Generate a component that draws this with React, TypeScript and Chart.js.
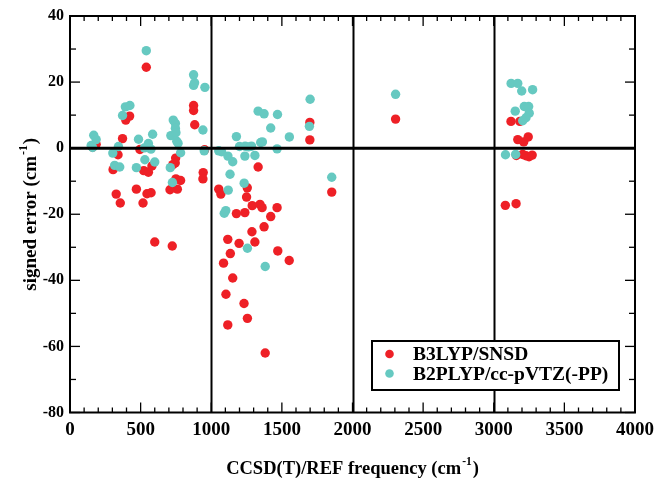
import React, { useEffect, useRef } from 'react';
import { Chart, registerables } from 'chart.js';

Chart.register(...registerables);

// ---------- data ----------
const b3lypFreq = [
  160, 185, 305, 327, 340, 356, 372, 395, 422, 470, 495, 517, 522, 540, 545, 555, 574, 580, 600,
  708, 724, 728, 748, 745, 760, 750, 783, 875, 875, 883, 943, 941, 953,
  1053, 1068, 1087, 1104, 1117, 1117, 1135, 1152, 1178, 1197, 1232, 1238, 1250, 1255, 1256, 1288,
  1290, 1309, 1332, 1345, 1360, 1374, 1382, 1421, 1466, 1471, 1552, 1698, 1698, 1853, 2305,
  3082, 3158, 3122, 3185, 3160, 3170, 3212, 3244, 3205, 3228, 3250, 3272,
];
const b3lypErr = [
  0.3, 1.2, -6.5, -13.9, -2.0, -16.6, 2.9, 8.5, 9.7, -12.4, -0.4, -16.6, -6.8, 24.5, -13.8, -7.3, -13.5, -5.4, -28.4,
  -12.6, -29.6, -5.0, -3.0, -4.5, -12.4, -9.3, -9.8, 12.9, 11.4, 7.1, -7.4, -9.3, -0.5,
  -12.4, -13.9, -34.8, -44.2, -27.6, -53.5, -31.9, -39.3, -19.8, -28.8, -47.0, -19.5, -14.8, -12.0, -51.5, -25.3,
  -17.4, -28.4, -5.7, -17.0, -18.0, -23.8, -62.0, -20.7, -18.0, -31.1, -34.0, 7.8, 2.5, -13.3, 8.8,
  -17.3, -16.8, 8.1, 8.1, -2.2, 2.6, 1.9, 3.4, -1.9, -2.3, -2.6, -2.1,
];
const b2plypFreq = [
  150, 168, 185, 160, 303, 316, 343, 352, 372, 392, 424, 470, 485, 530, 527, 540, 555, 573, 585, 600,
  710, 714, 725, 731, 746, 746, 750, 756, 765, 783, 875, 875, 882, 955, 941, 950,
  1053, 1073, 1092, 1103, 1118, 1120, 1133, 1152, 1178, 1200, 1233, 1238, 1240, 1256, 1262, 1285,
  1309, 1332, 1350, 1362, 1374, 1382, 1421, 1466, 1469, 1553, 1695, 1700, 1853, 2305,
  3123, 3170, 3198, 3275, 3152, 3216, 3247, 3251, 3228, 3205, 3083, 3155,
];
const b2plypErr = [
  0.8, 3.9, 2.6, 0.2, -1.5, -5.2, 0.5, -5.7, 9.9, 12.5, 12.9, -5.9, 2.7, -3.5, 0.1, 29.5, 1.4, -0.3, 4.2, -4.2,
  -5.9, 3.8, -10.4, 8.5, 7.5, 6.0, 4.7, 2.1, 1.5, -1.4, 22.2, 19.0, 19.8, 18.4, 5.5, -0.8,
  -0.8, -1.1, -19.7, -18.9, -2.4, -12.7, -7.9, -4.1, 3.5, 0.5, -10.6, -2.4, 0.6, -30.3, 0.4, 0.6,
  -2.2, 11.2, 1.7, 1.9, 10.4, -35.8, 6.1, -0.2, 10.2, 3.4, 6.6, 14.8, -8.8, 16.3,
  19.6, 19.6, 17.3, 17.7, 11.2, 12.6, 12.6, 10.6, 9.2, 8.3, -2.0, -1.9,
];

const seriesNames = ['B3LYP/SNSD', 'B2PLYP/cc-pVTZ(-PP)'];
const seriesColors = ['rgb(238,32,38)', 'rgb(102,201,193)'];

const xTicks = [0, 500, 1000, 1500, 2000, 2500, 3000, 3500, 4000];
const yTicks = [-80, -60, -40, -20, 0, 20, 40];
const xMinorStep = 100;
const yMinorStep = 10;
const xRefLines = [1000, 2000, 3000];
const yRefLines = [0];

const xTitle = ['CCSD(T)/REF frequency (cm', '-1', ')'];
const yTitle = ['signed error (cm', '-1', ')'];

const FONT = '"Liberation Serif", "Times New Roman", serif';

function drawSupTitle(ctx: CanvasRenderingContext2D, parts: string[], cx: number, baseY: number, size: number) {
  const supSize = size * 0.62;
  ctx.font = `bold ${size}px ${FONT}`;
  const w1 = ctx.measureText(parts[0]).width;
  const w3 = ctx.measureText(parts[2]).width;
  ctx.font = `bold ${supSize}px ${FONT}`;
  const w2 = ctx.measureText(parts[1]).width;
  let x0 = cx - (w1 + w2 + w3 + 2) / 2;
  ctx.textAlign = 'left';
  ctx.textBaseline = 'alphabetic';
  ctx.font = `bold ${size}px ${FONT}`;
  ctx.fillText(parts[0], x0, baseY);
  x0 += w1 + 1;
  ctx.font = `bold ${supSize}px ${FONT}`;
  ctx.fillText(parts[1], x0, baseY - size * 0.48);
  x0 += w2 + 1;
  ctx.font = `bold ${size}px ${FONT}`;
  ctx.fillText(parts[2], x0, baseY);
}

const decorPlugin = {
  id: 'decor',
  afterDatasetsDraw(chart: any) {
    const { ctx, chartArea: a, scales } = chart;
    const x = scales.x;
    const y = scales.y;
    const line = (x1: number, y1: number, x2: number, y2: number) => {
      ctx.beginPath();
      ctx.moveTo(x1, y1);
      ctx.lineTo(x2, y2);
      ctx.stroke();
    };
    ctx.save();
    ctx.strokeStyle = '#000';
    ctx.fillStyle = '#000';
    // reference lines
    ctx.lineWidth = 2;
    for (const v of xRefLines) {
      const px = Math.round(x.getPixelForValue(v)) + 0.5;
      line(px, a.top, px, a.bottom);
    }
    ctx.lineWidth = 3;
    for (const v of yRefLines) {
      const py = y.getPixelForValue(v);
      line(a.left, py, a.right, py);
    }
    // inward ticks on all sides
    ctx.lineWidth = 1.3;
    for (let v = x.min; v <= x.max; v += xMinorStep) {
      const major = xTicks.includes(v);
      const len = major ? 10 : 5;
      const px = x.getPixelForValue(v);
      line(px, a.bottom, px, a.bottom - len);
      line(px, a.top, px, a.top + len);
    }
    for (let v = y.min; v <= y.max; v += yMinorStep) {
      const major = yTicks.includes(v);
      const len = major ? 10 : 6;
      const py = y.getPixelForValue(v);
      line(a.left, py, a.left + len, py);
      line(a.right, py, a.right - len, py);
    }
    // frame
    ctx.lineWidth = 2;
    ctx.strokeRect(a.left, a.top, a.right - a.left, a.bottom - a.top);

    // legend box
    const lx = 372, ly = 341, lw = 247, lh = 49;
    ctx.fillStyle = '#fff';
    ctx.fillRect(lx, ly, lw, lh);
    ctx.lineWidth = 2;
    ctx.strokeRect(lx, ly, lw, lh);
    const rows = [354, 373.5];
    const bases = [359.8, 379.5];
    seriesNames.forEach((name, i) => {
      ctx.fillStyle = seriesColors[i];
      ctx.beginPath();
      ctx.arc(389.5, rows[i], 4.3, 0, Math.PI * 2);
      ctx.fill();
      ctx.fillStyle = '#000';
      ctx.font = `bold 19.5px ${FONT}`;
      ctx.textAlign = 'left';
      ctx.textBaseline = 'alphabetic';
      ctx.fillText(name, 413, bases[i]);
    });

    // axis titles
    ctx.fillStyle = '#000';
    drawSupTitle(ctx, xTitle, (a.left + a.right) / 2, 473.5, 18.5);
    ctx.save();
    ctx.translate(36, (a.top + a.bottom) / 2);
    ctx.rotate(-Math.PI / 2);
    drawSupTitle(ctx, yTitle, 0, 0, 19);
    ctx.restore();
    ctx.restore();
  },
};

export default function App() {
  const ref = useRef<HTMLCanvasElement | null>(null);
  useEffect(() => {
    if (!ref.current) return;
    const mk = (xs: number[], ys: number[]) => xs.map((v, i) => ({ x: v, y: ys[i] }));
    const chart = new Chart(ref.current, {
      type: 'scatter',
      data: {
        datasets: [
          {
            label: seriesNames[0],
            data: mk(b3lypFreq, b3lypErr),
            backgroundColor: seriesColors[0],
            borderWidth: 0,
            pointRadius: 4.7,
            order: 1,
          },
          {
            label: seriesNames[1],
            data: mk(b2plypFreq, b2plypErr),
            backgroundColor: seriesColors[1],
            borderWidth: 0,
            pointRadius: 4.7,
            order: 0,
          },
        ],
      },
      options: {
        animation: false,
        responsive: false,
        maintainAspectRatio: false,
        layout: { padding: { left: 0, right: 20, top: 16, bottom: 0 } },
        plugins: { legend: { display: false }, tooltip: { enabled: false } },
        scales: {
          x: {
            type: 'linear',
            min: xTicks[0],
            max: xTicks[xTicks.length - 1],
            afterBuildTicks: (s: any) => { s.ticks = xTicks.map((v) => ({ value: v })); },
            afterFit: (s: any) => { s.height = 65.5; },
            grid: { display: false, drawTicks: false },
            border: { display: false },
            ticks: {
              color: '#000',
              padding: 6,
              maxRotation: 0,
              autoSkip: false,
              font: { family: FONT, size: 19, weight: 'bold' },
              callback: (v: any) => String(v),
            },
          },
          y: {
            type: 'linear',
            min: yTicks[0],
            max: yTicks[yTicks.length - 1],
            afterBuildTicks: (s: any) => { s.ticks = yTicks.map((v) => ({ value: v })); },
            afterFit: (s: any) => { s.width = 70; },
            grid: { display: false, drawTicks: false },
            border: { display: false },
            ticks: {
              color: '#000',
              padding: 6,
              autoSkip: false,
              font: { family: FONT, size: 16, weight: 'bold' },
              callback: (v: any) => String(v),
            },
          },
        },
      },
      plugins: [decorPlugin],
    } as any);
    return () => chart.destroy();
  }, []);
  return (
    <div style={{ position: 'fixed', left: 0, top: 0, width: 660, height: 478, background: '#fff' }}>
      <canvas ref={ref} width={660} height={478} style={{ width: 660, height: 478 }} />
    </div>
  );
}
